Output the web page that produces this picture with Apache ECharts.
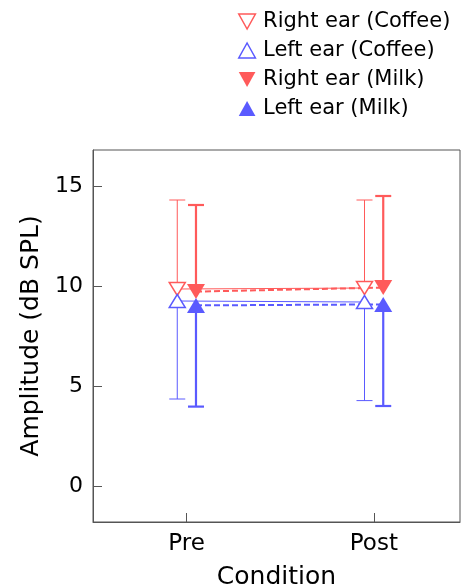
<!DOCTYPE html>
<html>
<head>
<meta charset="utf-8">
<script src="https://cdn.jsdelivr.net/npm/echarts@6/dist/echarts.min.js"></script>
<style>
  html, body { margin: 0; padding: 0; background: #fff; }
  #chart { width: 462px; height: 588px; }
</style>
</head>
<body>
<div id="chart"></div>
<script>
// categories on the x axis
const conditions = ['Pre', 'Post']
const conditionX = [1, 2]
const dodge = [-0.05, 0.05] // coffee left, milk right

// means
const rightCoffeeMean = [9.85, 9.9]
const leftCoffeeMean = [9.25, 9.2]
const rightMilkMean = [9.72, 9.92]
const leftMilkMean = [9.03, 9.08]

// error bar ends (upper for right ear, lower for left ear)
const rightCoffeeUpper = [14.3, 14.3]
const leftCoffeeLower = [4.35, 4.27]
const rightMilkUpper = [14.05, 14.5]
const leftMilkLower = [3.97, 4.0]

const yTicks = [0, 5, 10, 15]

const RED = '#ff5a5a'
const BLUE = '#5a5aff'
const FONT = 'DejaVu Sans'
const DOWN = 'path://M0,0 L10,0 L5,9 Z'
const UP = 'path://M5,0 L10,9 L0,9 Z'

const pts = (means, side) => means.map((m, i) => [conditionX[i] + dodge[side], m])
const bars = (means, ends, side) => means.map((m, i) => [conditionX[i] + dodge[side], m, ends[i]])

// error bar: stem from mean to end, plus a cap
const errorBar = (width) => (params, api) => {
  const x = api.value(0)
  const p0 = api.coord([x, api.value(1)])
  const p1 = api.coord([x, api.value(2)])
  const style = { stroke: api.visual('color'), lineWidth: width }
  return {
    type: 'group',
    children: [
      { type: 'line', shape: { x1: p0[0], y1: p0[1], x2: p1[0], y2: p1[1] }, style },
      { type: 'line', shape: { x1: p1[0] - 8, y1: p1[1], x2: p1[0] + 8, y2: p1[1] }, style }
    ]
  }
}

const hollow = (c) => ({ color: '#fff', borderColor: c, borderWidth: 1.5 })

const chart = echarts.init(document.getElementById('chart'))

const option = {
  animation: false,
  textStyle: { fontFamily: FONT },
  grid: {
    left: 93, right: 2, top: 150, bottom: 66,
    outerBoundsMode: 'none',
    show: true, borderColor: '#555', borderWidth: 1
  },
  legend: {
    orient: 'vertical',
    left: 233, top: 6,
    itemWidth: 18, itemHeight: 15, itemGap: 8,
    textStyle: { fontFamily: FONT, fontSize: 21, color: '#000', padding: [0, 0, 0, 2] },
    data: [
      { name: 'Right ear (Coffee)', icon: DOWN, itemStyle: hollow(RED) },
      { name: 'Left ear (Coffee)', icon: UP, itemStyle: hollow(BLUE) },
      { name: 'Right ear (Milk)', icon: DOWN },
      { name: 'Left ear (Milk)', icon: UP }
    ]
  },
  xAxis: {
    type: 'value',
    min: 0.5, max: 2.46,
    name: 'Condition',
    nameLocation: 'middle',
    nameGap: 43,
    nameTextStyle: { fontFamily: FONT, fontSize: 25, color: '#000' },
    axisLine: { onZero: false, lineStyle: { color: '#555' } },
    axisTick: { inside: true, length: 9, customValues: conditionX, lineStyle: { color: '#555' } },
    axisLabel: {
      customValues: conditionX, margin: 11,
      fontFamily: FONT, fontSize: 23, color: '#000',
      formatter: v => conditions[conditionX.indexOf(v)]
    },
    splitLine: { show: false }
  },
  yAxis: {
    type: 'value',
    min: -1.8, max: 16.8,
    name: 'Amplitude (dB SPL)',
    nameLocation: 'middle',
    nameGap: 48,
    nameTextStyle: { fontFamily: FONT, fontSize: 25, color: '#000' },
    axisLine: { show: true, onZero: false, lineStyle: { color: '#555' } },
    axisTick: { inside: true, length: 9, customValues: yTicks, lineStyle: { color: '#555' } },
    axisLabel: { customValues: yTicks, margin: 10, fontFamily: FONT, fontSize: 22, color: '#000' },
    splitLine: { show: false }
  },
  series: [
    // error bars first so markers sit on top
    { type: 'custom', name: 'Right ear (Coffee)', renderItem: errorBar(1), itemStyle: { color: RED }, data: bars(rightCoffeeMean, rightCoffeeUpper, 0), z: 1 },
    { type: 'custom', name: 'Left ear (Coffee)', renderItem: errorBar(1), itemStyle: { color: BLUE }, data: bars(leftCoffeeMean, leftCoffeeLower, 0), z: 1 },
    { type: 'custom', name: 'Right ear (Milk)', renderItem: errorBar(2.2), itemStyle: { color: RED }, data: bars(rightMilkMean, rightMilkUpper, 1), z: 1 },
    { type: 'custom', name: 'Left ear (Milk)', renderItem: errorBar(2.2), itemStyle: { color: BLUE }, data: bars(leftMilkMean, leftMilkLower, 1), z: 1 },
    {
      type: 'line', name: 'Right ear (Coffee)', data: pts(rightCoffeeMean, 0),
      symbol: DOWN, symbolSize: [16, 13], showAllSymbol: true, z: 3,
      lineStyle: { color: RED, width: 1 },
      itemStyle: hollow(RED)
    },
    {
      type: 'line', name: 'Left ear (Coffee)', data: pts(leftCoffeeMean, 0),
      symbol: UP, symbolSize: [16, 13], showAllSymbol: true, z: 3,
      lineStyle: { color: BLUE, width: 1 },
      itemStyle: hollow(BLUE)
    },
    {
      type: 'line', name: 'Right ear (Milk)', data: pts(rightMilkMean, 1),
      symbol: DOWN, symbolSize: [18, 15], showAllSymbol: true, z: 3,
      lineStyle: { color: RED, width: 2, type: [6, 3] },
      itemStyle: { color: RED }
    },
    {
      type: 'line', name: 'Left ear (Milk)', data: pts(leftMilkMean, 1),
      symbol: UP, symbolSize: [18, 15], showAllSymbol: true, z: 3,
      lineStyle: { color: BLUE, width: 2, type: [6, 3] },
      itemStyle: { color: BLUE }
    }
  ]
}

chart.setOption(option)
</script>
</body>
</html>
